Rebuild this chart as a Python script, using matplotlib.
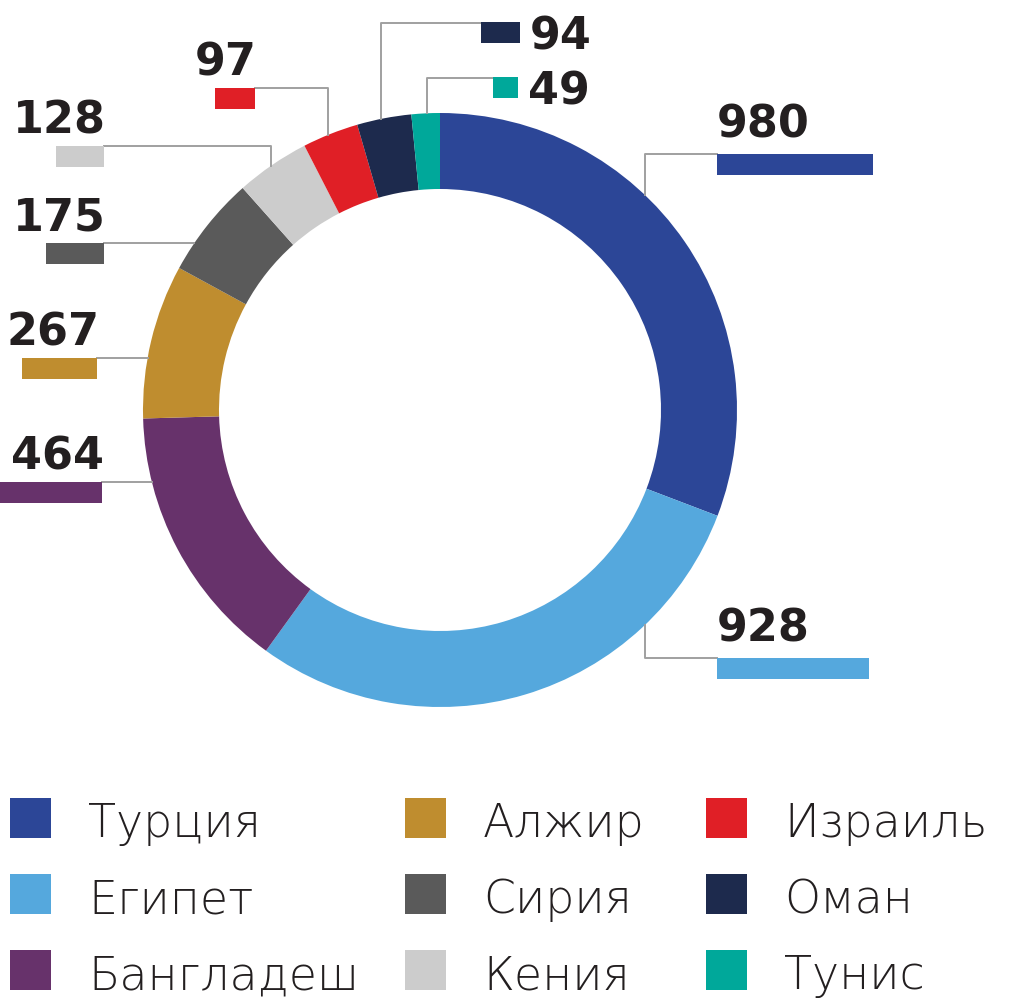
import numpy as np
import matplotlib
matplotlib.use("Agg")
import matplotlib.pyplot as plt
from matplotlib.patches import Rectangle

# data
countries = ["Турция", "Египет", "Бангладеш", "Алжир", "Сирия",
             "Кения", "Израиль", "Оман", "Тунис"]
values = [980, 928, 464, 267, 175, 128, 97, 94, 49]
colors = ["#2c4697", "#55a8dd", "#67326b", "#bf8d2f", "#5a5a5a",
          "#cccccc", "#e01f26", "#1d2a4d", "#00a89a"]

# layout in pixels (y goes down): side of the tab, anchor x of the tab edge
# touching the connector, tab top y, elbow x (None = straight to ring)
label_layout = [
    ("right", 717, 154, 645),
    ("right", 717, 658, 645),
    ("left", 102, 482, None),
    ("left", 97, 358, None),
    ("left", 104, 243, None),
    ("left", 104, 146, 271),
    ("left", 255, 88, 328),
    ("top", 520, 22, 381),
    ("top", 518, 77, 427),
]

W, H = 1024, 1006
cx, cy, R, ring = 440, 410, 297, 76
line_col = "#a0a0a0"
num_font = dict(family="DejaVu Sans", fontweight="bold", fontsize=32, color="#231f20")
leg_font = dict(family=["DejaVu Sans"], fontweight="light", fontsize=33, color="#231f20")

fig = plt.figure(figsize=(W / 100, H / 100), dpi=100)
ax = fig.add_axes([0, 0, 1, 1])

# y axis inverted, so start at -90 and go counterclockwise in data = clockwise on screen
ax.pie(values, colors=colors, startangle=-90, counterclock=True,
       radius=R, center=(cx, cy),
       wedgeprops=dict(width=ring, edgecolor="none", linewidth=0))

def ring_y(x, below=False):
    dy = np.sqrt(R ** 2 - (x - cx) ** 2)
    return cy + dy if below else cy - dy

def ring_x(y):
    return cx - np.sqrt(R ** 2 - (y - cy) ** 2)

tab_h = 21
for v, c, (side, ax0, ty, elbow) in zip(values, colors, label_layout):
    tab_w = 5.4 * np.sqrt(v) - 13
    if side == "right":
        x0 = ax0
        ex = elbow
        ey = ring_y(ex, below=ty > cy)
        ax.plot([ax0, ex, ex], [ty, ty, ey], color=line_col, lw=1.4, zorder=1)
        ax.text(ax0, ty - 17, str(v), ha="left", va="baseline", **num_font)
    elif side == "left":
        x0 = ax0 - tab_w
        if elbow is None:
            ax.plot([ax0, ring_x(ty)], [ty, ty], color=line_col, lw=1.4, zorder=1)
        else:
            ax.plot([ax0, elbow, elbow], [ty, ty, ring_y(elbow)],
                    color=line_col, lw=1.4, zorder=1)
        ax.text(ax0 + 2, ty - 13, str(v), ha="right", va="baseline", **num_font)
    else:
        x0 = ax0 - tab_w
        ax.plot([x0, elbow, elbow], [ty + 1, ty + 1, ring_y(elbow)],
                color=line_col, lw=1.4, zorder=1)
        ax.text(ax0 + 10, ty + 27, str(v), ha="left", va="baseline", **num_font)
    ax.add_patch(Rectangle((x0, ty), tab_w, tab_h, color=c, lw=0, zorder=3))

# legend, three columns filled top to bottom
col_x = [10, 405, 706]
row_y = [838, 914, 990]
for i, (name, c) in enumerate(zip(countries, colors)):
    mx, my = col_x[i // 3], row_y[i % 3]
    ax.add_patch(Rectangle((mx, my - 40), 41, 40, color=c, lw=0))
    ax.text(mx + 78, my - 1, name, ha="left", va="baseline", **leg_font)

ax.set_xlim(0, W)
ax.set_ylim(H, 0)
ax.set_aspect("equal")
ax.set_axis_off()

fig.savefig("out.png", dpi=100, facecolor="white")
